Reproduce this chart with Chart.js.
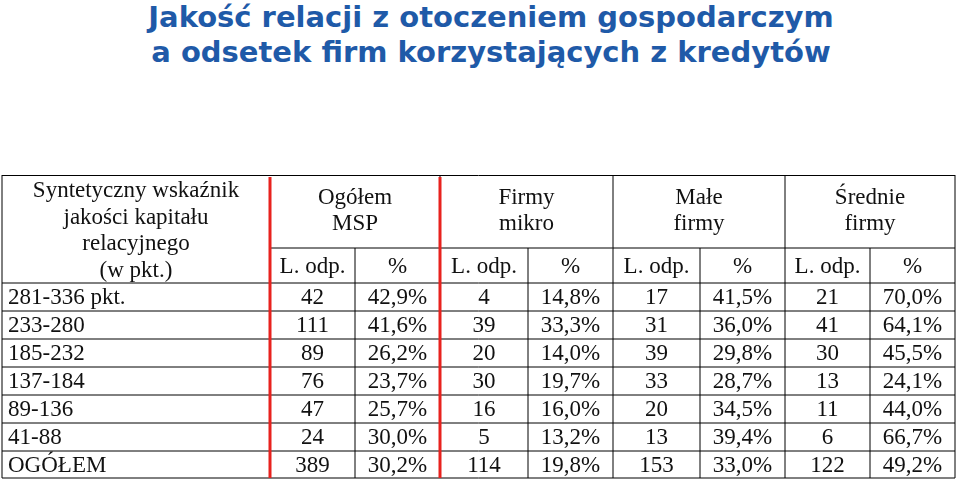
<!DOCTYPE html>
<html>
<head>
<meta charset="utf-8">
<script src="https://cdn.jsdelivr.net/npm/chart.js@4"></script>
<style>
  body { margin: 0; width: 959px; height: 480px; background: #fff; overflow: hidden; position: relative; }
  #title { position: absolute; left: 0; top: 0; width: 982px; text-align: center; font-family: "DejaVu Sans", Verdana, sans-serif;
           font-weight: bold; font-size: 29px; line-height: 35px; color: #1f5aa8; }
  #wrap { position: absolute; left: 0; top: 175px; width: 959px; height: 305px; }
</style>
</head>
<body>
<div id="title">Jakość relacji z otoczeniem gospodarczym<br>a odsetek firm korzystających z kredytów</div>
<div id="wrap"><canvas id="tbl"></canvas></div>
<script>
// Data
const rows = ["281-336 pkt.", "233-280", "185-232", "137-184", "89-136", "41-88", "OGÓŁEM"];
const groups = [["Ogółem", "MSP"], ["Firmy", "mikro"], ["Małe", "firmy"], ["Średnie", "firmy"]];
const subHeads = ["L. odp.", "%"];
const mspN = [42, 111, 89, 76, 47, 24, 389];
const mspP = [42.9, 41.6, 26.2, 23.7, 25.7, 30.0, 30.2];
const mikroN = [4, 39, 20, 30, 16, 5, 114];
const mikroP = [14.8, 33.3, 14.0, 19.7, 16.0, 13.2, 19.8];
const maleN = [17, 31, 39, 33, 20, 13, 153];
const maleP = [41.5, 36.0, 29.8, 28.7, 34.5, 39.4, 33.0];
const sredN = [21, 41, 30, 13, 11, 6, 122];
const sredP = [70.0, 64.1, 45.5, 24.1, 44.0, 66.7, 49.2];
const firstHead = ["Syntetyczny wskaźnik", "jakości kapitału", "relacyjnego", "(w pkt.)"];

// Layout (scale units)
const colEdges = [2, 270, 355, 440, 528, 613, 700, 785, 870, 955];
const rowEdges = [108, 136, 164, 192, 220, 248, 276, 303];
const groupLine = 73;

const pct = v => v.toFixed(1).replace('.', ',') + '%';
const series = [[mspN, mspP], [mikroN, mikroP], [maleN, maleP], [sredN, sredP]];

const cells = [];
rows.forEach((r, i) => cells.push({ x: 8, y: (rowEdges[i] + rowEdges[i + 1]) / 2, label: r, align: 'left' }));
series.forEach((s, g) => s.forEach((arr, k) => {
  const c = 1 + g * 2 + k;
  arr.forEach((v, i) => cells.push({
    x: (colEdges[c] + colEdges[c + 1]) / 2, y: (rowEdges[i] + rowEdges[i + 1]) / 2,
    label: k ? pct(v) : String(v), align: 'center'
  }));
}));
groups.forEach((gh, g) => {
  const x = (colEdges[1 + g * 2] + colEdges[3 + g * 2]) / 2;
  cells.push({ x, y: 22, label: gh[0], align: 'center' });
  cells.push({ x, y: 48, label: gh[1], align: 'center' });
  subHeads.forEach((h, k) => cells.push({ x: (colEdges[1 + g * 2 + k] + colEdges[2 + g * 2 + k]) / 2, y: 91, label: h, align: 'center' }));
});
firstHead.forEach((t, i) => cells.push({ x: 136, y: 15 + i * 26.5, label: t, align: 'center' }));

const tablePlugin = {
  id: 'tablePlugin',
  beforeDatasetsDraw(chart) {
    const { ctx, scales: { x, y } } = chart;
    const X = v => x.getPixelForValue(v), Y = v => y.getPixelForValue(v);
    const line = (x1, y1, x2, y2, color, w) => {
      ctx.beginPath(); ctx.strokeStyle = color; ctx.lineWidth = w;
      ctx.moveTo(X(x1), Y(y1)); ctx.lineTo(X(x2), Y(y2)); ctx.stroke();
    };
    ctx.save();
    const L = colEdges[0], R = colEdges[colEdges.length - 1], B = rowEdges[rowEdges.length - 1];
    line(L, 0.5, R, 0.5, '#000', 1);
    line(colEdges[1], groupLine, R, groupLine, '#000', 1);
    rowEdges.forEach(e => line(L, e, R, e, '#000', 1));
    line(L, 0, L, B, '#000', 1);
    colEdges.slice(2).forEach((e, i) => line(e, i % 2 === 1 || e === R ? 0 : groupLine, e, B, '#000', 1));
    line(colEdges[1], 2, colEdges[1], B, '#e8221e', 3);
    line(colEdges[3], 2, colEdges[3], B, '#e8221e', 3);
    ctx.restore();
  },
  afterDatasetsDraw(chart) {
    const { ctx } = chart;
    const meta = chart.getDatasetMeta(0);
    ctx.save();
    ctx.fillStyle = '#111';
    ctx.font = '23px "Liberation Serif", "Times New Roman", serif';
    ctx.textBaseline = 'middle';
    meta.data.forEach((pt, i) => {
      const d = cells[i];
      ctx.textAlign = d.align;
      ctx.fillText(d.label, pt.x, pt.y + 1);
    });
    ctx.restore();
  }
};

new Chart(document.getElementById('tbl'), {
  type: 'scatter',
  data: { datasets: [{ data: cells, pointRadius: 0, pointHoverRadius: 0 }] },
  options: {
    responsive: true, maintainAspectRatio: false, animation: false,
    layout: { padding: 0 },
    plugins: { legend: { display: false }, tooltip: { enabled: false } },
    scales: {
      x: { type: 'linear', min: 0, max: 959, display: false },
      y: { type: 'linear', min: 0, max: 305, reverse: true, display: false }
    }
  },
  plugins: [tablePlugin]
});
</script>
</body>
</html>
